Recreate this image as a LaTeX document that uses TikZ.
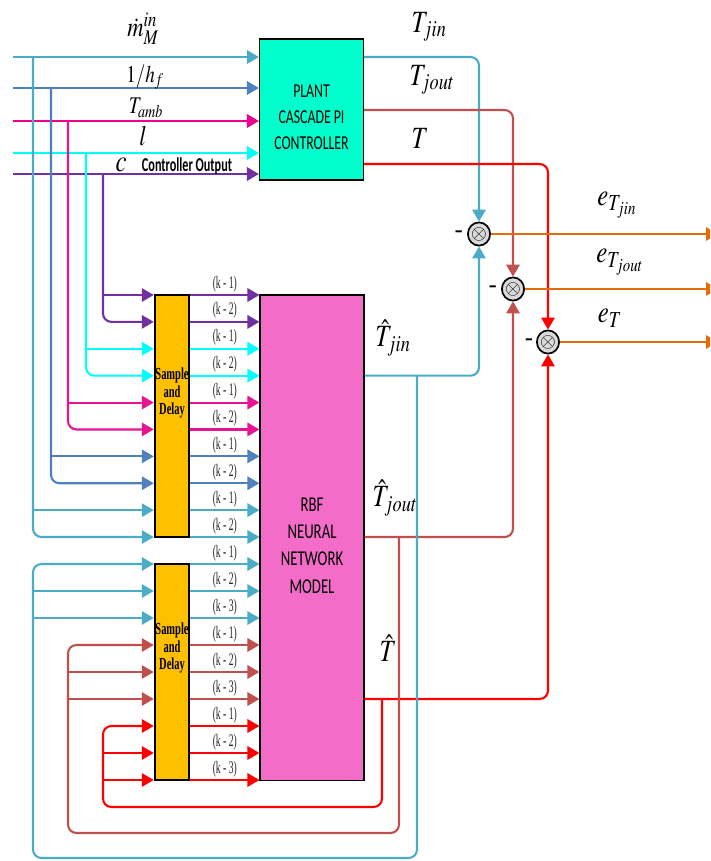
\documentclass[tikz,border=0pt]{standalone}
\usepackage{mathptmx}
\usepackage{fontspec}
\newfontfamily\condsans[FakeStretch=0.7]{Carlito}
\newfontfamily\narrowsans[FakeStretch=0.62]{Carlito}
\newfontfamily\condserif[FakeStretch=0.62]{Liberation Serif}
\newfontfamily\narrowserif[FakeStretch=0.55]{Liberation Serif}
\usetikzlibrary{arrows.meta,positioning,shapes.geometric,calc}
\definecolor{plantgreen}{RGB}{0,255,204}
\definecolor{nnpink}{RGB}{243,108,199}
\definecolor{sdorange}{RGB}{255,192,0}
\definecolor{jinblue}{RGB}{75,172,198}
\definecolor{hfblue}{RGB}{79,129,189}
\definecolor{ambpink}{RGB}{230,20,145}
\definecolor{lcyan}{RGB}{0,255,255}
\definecolor{cpurple}{RGB}{112,48,160}
\definecolor{joutbrown}{RGB}{192,80,77}
\definecolor{tred}{RGB}{255,0,0}
\definecolor{errorange}{RGB}{228,108,10}
\newcommand{\lbl}[1]{\scalebox{0.8}[1]{$#1$}}

\begin{document}
\begin{tikzpicture}[x=0.025cm, y=-0.025cm, line width=1.5pt,
    arr/.style={-{Triangle[length=8.5pt,width=9.5pt]}},
    rnd/.style={rounded corners=6pt},
    box/.style={rectangle, draw, line width=0.8pt, inner sep=0pt},
    boxtext/.style={align=center, inner sep=0pt},
    sdbox/.style={rectangle, draw, fill=sdorange, line width=1.8pt, minimum width=0.85cm},
    sdtext/.style={align=center, inner sep=0pt, font=\condserif\bfseries\fontsize{12}{12.5}\selectfont},
    dlbl/.style={midway, above, inner sep=1.5pt, text=black!85, font=\narrowserif\fontsize{12.5}{12.5}\selectfont},
    junc/.style={ellipse, draw, line width=1.2pt, fill=gray!30, minimum width=0.4cm, minimum height=0.58cm, inner sep=0pt, font=\Large},
    minus/.style={inner sep=0pt, font=\bfseries\fontsize{15}{15}\selectfont},
    sig/.style={inner sep=0pt, font=\fontsize{22}{22}\selectfont}
]
    \useasboundingbox (0,0) rectangle (710,861);
    \clip (0,0) rectangle (710,861);

    % blocks
    \node[box, fill=plantgreen, minimum width=2.6cm, minimum height=3.525cm] (plant) at (311.5,109.5) {};
    \node[boxtext, font=\condsans\fontsize{14}{18.5}\selectfont] (plantTxt) at ($(plant.center)+(0,8)$) {PLANT\\CASCADE PI\\CONTROLLER};
    \node[box, fill=nnpink, minimum width=2.6cm, minimum height=12.125cm] (nn) at (312,537.5) {};
    \node[boxtext, font=\condsans\fontsize{15}{19.5}\selectfont] (nnTxt) at ($(nn.center)+(0,8)$) {RBF\\NEURAL\\NETWORK\\MODEL};
    \node[sdbox, minimum height=6.05cm] (sd1) at (172,416) {};
    \node[sdbox, minimum height=5.4cm] (sd2) at (172,672) {};
    \node[sdtext] (sd1txt) at ($(sd1.center)+(0,-23)$) {Sample\\and\\Delay};
    \node[sdtext] (sd2txt) at ($(sd2.center)+(0,-24)$) {Sample\\and\\Delay};

    \foreach \i in {1,...,10} {\coordinate (r\i) at (0,{295+(\i-1)*26.89});}
    \foreach \i in {1,...,9} {\coordinate (s\i) at (0,{564+(\i-1)*27});}

    % plant inputs
    \coordinate (inM) at (13,57);
    \coordinate (inH) at (13,88);
    \coordinate (inA) at (13,121);
    \coordinate (inL) at (13,153);
    \coordinate (inC) at (13,174);
    \draw[arr, jinblue] (inM) -- (inM -| plant.west);
    \draw[arr, hfblue] (inH) -- (inH -| plant.west);
    \draw[arr, magenta] (inA) -- (inA -| plant.west);
    \draw[arr, lcyan] (inL) -- (inL -| plant.west);
    \draw[arr, cpurple] (inC) -- (inC -| plant.west);

    \node[sig, font=\fontsize{20}{20}\selectfont] (lblM) at (143,29) {\lbl{\dot{m}_M^{in}}};
    \node[sig, font=\fontsize{17}{17}\selectfont] (lblH) at (145,77) {\lbl{1/h_f}};
    \node[sig, font=\fontsize{17}{17}\selectfont] (lblA) at (146,108) {\lbl{T_{amb}}};
    \node[sig, font=\fontsize{20}{20}\selectfont] (lblL) at (143,136) {\lbl{l}};
    \node[sig] (lblC) at (121,165) {\lbl{c}};
    \node[inner sep=0pt, font=\narrowsans\bfseries\fontsize{14}{14}\selectfont] (ctrl) at (187,166) {Controller Output};

    % taps to the first sample and delay
    \coordinate (tapM) at (33,57);
    \coordinate (tapH) at (51,88);
    \coordinate (tapA) at (68,121);
    \coordinate (tapL) at (86,153);
    \coordinate (tapC) at (103,174);
    \draw[arr, cpurple] (tapC |- r1) -- (r1 -| sd1.west);
    \draw[arr, cpurple, rnd] (tapC) |- (r2 -| sd1.west);
    \draw[arr, lcyan] (tapL |- r3) -- (r3 -| sd1.west);
    \draw[arr, lcyan, rnd] (tapL) |- (r4 -| sd1.west);
    \draw[arr, ambpink] (tapA |- r5) -- (r5 -| sd1.west);
    \draw[arr, ambpink, rnd] (tapA) |- (r6 -| sd1.west);
    \draw[arr, hfblue] (tapH |- r7) -- (r7 -| sd1.west);
    \draw[arr, hfblue, rnd] (tapH) |- (r8 -| sd1.west);
    \draw[arr, jinblue] (tapM |- r9) -- (r9 -| sd1.west);
    \draw[arr, jinblue, rnd] (tapM) |- (r10 -| sd1.west);

    % delayed signals
    \foreach \r/\c/\k in {r1/cpurple/1, r2/cpurple/2, r3/lcyan/1, r4/lcyan/2, r5/ambpink/1, r6/ambpink/2, r7/hfblue/1, r8/hfblue/2, r9/jinblue/1, r10/jinblue/2}
        \draw[arr, \c] (\r -| sd1.east) -- (\r -| nn.west) node[dlbl] {(k - \k)};
    \foreach \r/\c/\k in {s1/jinblue/1, s2/jinblue/2, s3/jinblue/3, s4/joutbrown/1, s5/joutbrown/2, s6/joutbrown/3, s7/tred/1, s8/tred/2, s9/tred/3}
        \draw[arr, \c] (\r -| sd2.east) -- (\r -| nn.west) node[dlbl] {(k - \k)};

    % error junctions
    \node[junc] (j1) at (479,234) {$\otimes$};
    \node[junc] (j2) at (513,289) {$\otimes$};
    \node[junc] (j3) at (548,342) {$\otimes$};
    \node[minus, left=2pt of j1] (m1) {-};
    \node[minus, left=2pt of j2] (m2) {-};
    \node[minus, left=1pt of j3] (m3) {-};

    % plant outputs
    \draw[arr, jinblue, rnd] (plant.east |- inM) -| (j1.north);
    \draw[arr, joutbrown, rnd] (plant.east |- 0,110) -| (j2.north);
    \draw[arr, tred, rnd] (plant.east |- 0,164) -| (j3.north);
    \node[sig] (tJin) at (429,27) {\lbl{T_{jin}}};
    \node[sig] (tJout) at (432,80) {\lbl{T_{jout}}};
    \node[sig] (tT) at (420,138) {\lbl{T}};

    % model outputs
    \draw[arr, jinblue, rnd] (r4 -| nn.east) -| (j1.south);
    \draw[arr, joutbrown, rnd] (r10 -| nn.east) -| (j2.south);
    \draw[arr, tred, rnd] (s6 -| nn.east) -| (j3.south);
    \node[sig] (hJin) at (393,338) {\lbl{\hat{T}_{jin}}};
    \node[sig] (hJout) at (395,498) {\lbl{\hat{T}_{jout}}};
    \node[sig] (hT) at (388,648) {\lbl{\hat{T}}};

    % feedback to the second sample and delay
    \coordinate (fbJin) at (417,376);
    \coordinate (lpJin) at (33,858);
    \draw[arr, jinblue, rnd] (fbJin) |- (lpJin) |- (s1 -| sd2.west);
    \draw[arr, jinblue] (lpJin |- s2) -- (s2 -| sd2.west);
    \draw[arr, jinblue] (lpJin |- s3) -- (s3 -| sd2.west);
    \coordinate (fbJout) at (399,537);
    \coordinate (lpJout) at (68,833);
    \draw[arr, joutbrown, rnd] (fbJout) |- (lpJout) |- (s4 -| sd2.west);
    \draw[arr, joutbrown] (lpJout |- s5) -- (s5 -| sd2.west);
    \draw[arr, joutbrown] (lpJout |- s6) -- (s6 -| sd2.west);
    \coordinate (fbT) at (382,699);
    \coordinate (lpT) at (103,807);
    \draw[arr, tred, rnd] (fbT) |- (lpT) |- (s7 -| sd2.west);
    \draw[arr, tred] (lpT |- s8) -- (s8 -| sd2.west);
    \draw[arr, tred] (lpT |- s9) -- (s9 -| sd2.west);

    % errors
    \coordinate (eJin) at (718,234);
    \coordinate (eJout) at (718,289);
    \coordinate (eT) at (718,342);
    \draw[arr, errorange] (j1.east) -- (eJin);
    \draw[arr, errorange] (j2.east) -- (eJout);
    \draw[arr, errorange] (j3.east) -- (eT);
    \node[sig] (lblEJin) at (617,205) {\lbl{e_{T_{jin}}}};
    \node[sig] (lblEJout) at (620,262) {\lbl{e_{T_{jout}}}};
    \node[sig] (lblET) at (610,318) {\lbl{e_T}};
\end{tikzpicture}
\end{document}
